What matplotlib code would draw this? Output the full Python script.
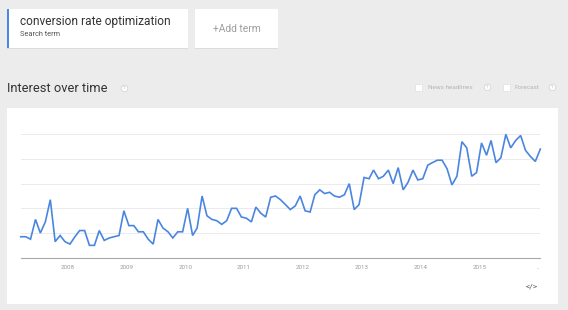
import matplotlib
matplotlib.use("Agg")
import matplotlib.pyplot as plt
import matplotlib.patches as mpatches
import pandas as pd

# ---- data ----
search_term = "conversion rate optimization"
start_month = "2007-03-01"
interest = [17, 17, 15, 31, 20, 29, 47, 13, 18, 13, 11, 17, 22, 22, 10, 10, 22, 14, 16, 17,
            18, 38, 26, 26, 21, 21, 15, 11, 31, 24, 21, 16, 21, 21, 40, 18, 24, 50, 34, 31,
            30, 27, 30, 40, 40, 33, 32, 29, 41, 36, 33, 49, 50, 47, 43, 39, 42, 50, 38, 37,
            51, 55, 52, 53, 50, 49, 51, 60, 39, 43, 65, 64, 71, 64, 66, 71, 60, 73, 55, 61,
            71, 63, 64, 75, 77, 79, 79, 72, 59, 66, 94, 89, 66, 69, 93, 83, 95, 77, 81, 100,
            89, 95, 99, 87, 82, 78, 88]
year_ticks = ["2008", "2009", "2010", "2011", "2012", "2013", "2014", "2015", ".."]
y_grid = [0, 20, 40, 60, 80, 100]

dates = pd.date_range(start_month, periods=len(interest), freq="MS") + pd.Timedelta(days=14)
tick_dates = pd.date_range("2008-01-01", periods=len(year_ticks), freq="YS")

plt.rcParams["font.family"] = ["Roboto", "DejaVu Sans"]

W, H = 568, 310
fig = plt.figure(figsize=(W / 100, H / 100), dpi=100)
fig.patch.set_facecolor("#ececec")

# background axes in pixel coordinates
bg = fig.add_axes([0, 0, 1, 1])
bg.set_xlim(0, W)
bg.set_ylim(H, 0)
bg.axis("off")

# subtle shadows
for (x0, w) in [(7, 181), (195, 83)]:
    bg.add_patch(mpatches.Rectangle((x0, 9.5), w, 39, facecolor="#dcdcdc", edgecolor="none"))

# search term box
bg.add_patch(mpatches.Rectangle((7, 8.5), 181, 39, facecolor="white", edgecolor="none"))
bg.add_patch(mpatches.Rectangle((7, 8.5), 2, 39, facecolor="#4a86e8", edgecolor="none"))
bg.text(20.5, 22, search_term, fontsize=8.6, color="#333333", va="center", ha="left")
bg.text(20.5, 34, "Search term", fontsize=5.3, color="#555555", va="center", ha="left")

# add term box
bg.add_patch(mpatches.Rectangle((195, 8.5), 83, 39, facecolor="white", edgecolor="none"))
bg.text(236.5, 28.5, "+Add term", fontsize=7.4, color="#9e9e9e", va="center", ha="center")

# title
bg.text(7, 88, "Interest over time", fontsize=9.3, color="#333333", va="center", ha="left")
bg.add_patch(mpatches.Circle((124.5, 88.5), 3.3, facecolor="white", edgecolor="#cfcfcf", lw=0.5))
bg.text(124.5, 88.7, "?", fontsize=3.8, color="#bdbdbd", va="center", ha="center")

# checkboxes
for (bx, label, tx, qx) in [(418, "News headlines", 427.5, 487.5), (506.5, "Forecast", 514.5, 552.5)]:
    bg.add_patch(mpatches.Rectangle((bx - 3.5, 83.5), 7, 7, facecolor="white", edgecolor="#e0e0e0", lw=0.5))
    bg.text(tx, 87.3, label, fontsize=4.6, color="#b5b5b5", va="center", ha="left")
    bg.add_patch(mpatches.Circle((qx, 87.3), 3.3, facecolor="white", edgecolor="#cfcfcf", lw=0.5))
    bg.text(qx, 87.5, "?", fontsize=3.8, color="#bdbdbd", va="center", ha="center")

# white card
bg.add_patch(mpatches.Rectangle((7, 107.5), 550.5, 196.5, facecolor="white", edgecolor="none"))
bg.text(531.5, 286.5, "</>", fontsize=6, color="#555555", va="center", ha="center")

# plot axes
left, right = 20.7, 540.3
top, bottom = 134.3, 257.7
ax = fig.add_axes([left / W, (H - bottom) / H, (right - left) / W, (bottom - top) / H])
ax.set_facecolor("none")
ax.plot(dates, interest, color="#4a86e0", lw=1.2, clip_on=False, zorder=3,
        solid_joinstyle="miter")
ax.set_xlim(dates[0], dates[-1])
ax.set_ylim(0, 100)
for v in y_grid[1:]:
    ax.axhline(v, color="#ebebeb", lw=0.7, zorder=1)
ax.set_yticks([])
for s in ["top", "right", "left"]:
    ax.spines[s].set_visible(False)
ax.spines["bottom"].set_color("#a8a8a8")
ax.spines["bottom"].set_linewidth(0.8)
ax.set_xticks(tick_dates)
ax.set_xticklabels(year_ticks)
ax.tick_params(axis="x", length=0, pad=5, labelsize=4.4, labelcolor="#9a9a9a")

fig.savefig("out.png", dpi=100, facecolor=fig.get_facecolor())
